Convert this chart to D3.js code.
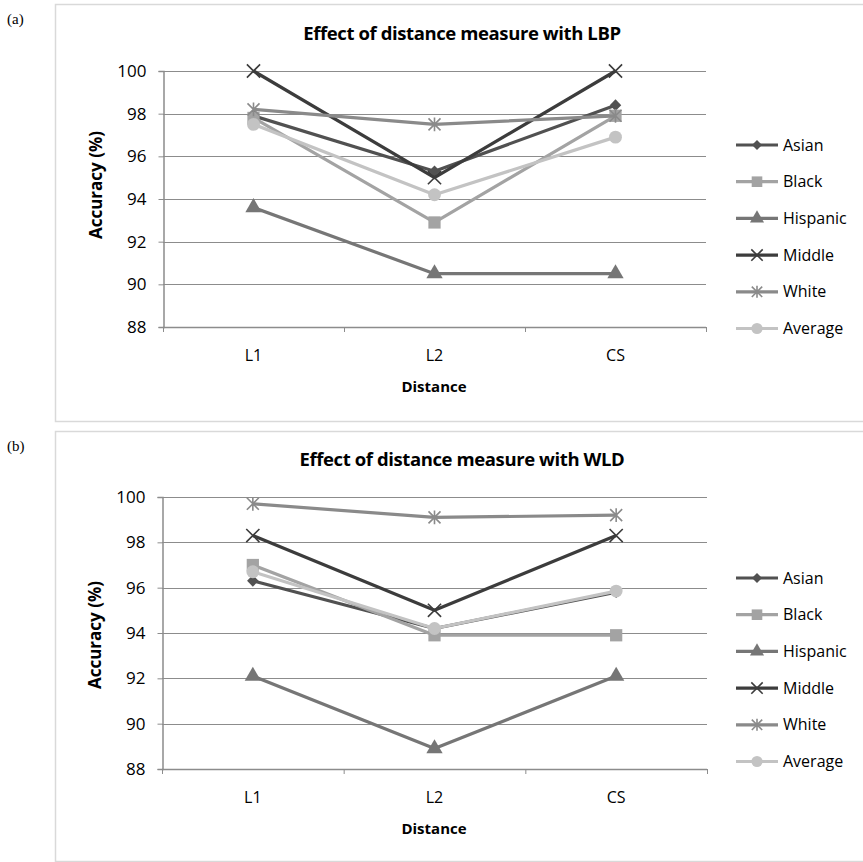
<!DOCTYPE html>
<html>
<head>
<meta charset="utf-8">
<script src="https://cdn.jsdelivr.net/npm/d3@7/dist/d3.min.js"></script>
<style>
  body { margin: 0; background: #fff; }
  text { font-family: "Open Sans", sans-serif; fill: #000; }
</style>
</head>
<body>
<svg id="chart" width="863" height="862"></svg>
<script>
// categories and series
var distances = ['L1', 'L2', 'CS'];
var groups = ['Asian', 'Black', 'Hispanic', 'Middle', 'White', 'Average'];
var yTicks = [88, 90, 92, 94, 96, 98, 100];

// accuracy (%) per group, order of distances
var lbpValues = [
	[97.9, 95.3, 98.4],
	[97.8, 92.9, 97.9],
	[93.6, 90.5, 90.5],
	[100, 95.0, 100],
	[98.2, 97.5, 97.9],
	[97.5, 94.2, 96.9]
];
var wldValues = [
	[96.3, 94.2, 95.8],
	[97.0, 93.9, 93.9],
	[92.1, 88.9, 92.1],
	[98.3, 95.0, 98.3],
	[99.7, 99.1, 99.2],
	[96.7, 94.2, 95.85]
];

// excel style asterisk: an x with a vertical bar
var asterisk = {
	draw: function (ctx, size) {
		var r = Math.sqrt(size) * 0.6;
		ctx.moveTo(-r, -r); ctx.lineTo(r, r);
		ctx.moveTo(-r, r); ctx.lineTo(r, -r);
		ctx.moveTo(0, -r * 1.15); ctx.lineTo(0, r * 1.15);
	}
};

var colors = ['#515151', '#a3a3a3', '#767676', '#3c3c3c', '#8a8a8a', '#c3c3c3'];
var shapes = [d3.symbolDiamond2, d3.symbolSquare, d3.symbolTriangle, d3.symbolX, asterisk, d3.symbolCircle];
var shapeSize = [85, 150, 115, 115, 100, 130];
var strokeOnly = [false, false, false, true, true, false];

var svg = d3.select('#chart');

function drawPanel(conf) {
	var g = svg.append('g'),
		x = d3.scaleBand().domain(distances).range([conf.left, conf.right]),
		y = d3.scaleLinear().domain([88, 100]).range([conf.bottom, conf.top]),
		cx = function (d) { return x(d) + x.bandwidth() / 2; };

	// frame
	g.append('rect')
		.attr('x', 55.5).attr('y', conf.frameTop + 0.5)
		.attr('width', 820).attr('height', conf.frameBottom - conf.frameTop)
		.attr('fill', 'none').attr('stroke', '#d9d9d9').attr('stroke-width', 1.5);

	g.append('text')
		.attr('x', 7).attr('y', conf.frameTop + 20)
		.style('font-family', '"Liberation Serif", serif')
		.style('font-size', '15px')
		.text(conf.label);

	// gridlines
	g.append('g').selectAll('line').data(yTicks).enter().append('line')
		.attr('x1', conf.left).attr('x2', conf.right)
		.attr('y1', function (d) { return Math.round(y(d)) + 0.5; })
		.attr('y2', function (d) { return Math.round(y(d)) + 0.5; })
		.attr('stroke', '#8c8c8c').attr('stroke-width', 1);

	// y axis
	var yAxis = g.append('g')
		.attr('transform', 'translate(' + (conf.left + 0.5) + ',0)')
		.call(d3.axisLeft(y).tickValues(yTicks).tickSize(5).tickPadding(12));
	yAxis.select('.domain').attr('stroke', '#8c8c8c').attr('stroke-width', 1.5);
	yAxis.selectAll('.tick line').attr('stroke', '#8c8c8c');
	yAxis.selectAll('.tick text').style('font-size', '17px').attr('fill', '#000');

	// x axis, ticks at band edges
	var edges = distances.map(function (d) { return x(d); }).concat([conf.right]);
	g.append('line')
		.attr('x1', conf.left).attr('x2', conf.right)
		.attr('y1', y(88) + 0.5).attr('y2', y(88) + 0.5)
		.attr('stroke', '#8c8c8c').attr('stroke-width', 1.5);
	g.append('g').selectAll('line').data(edges).enter().append('line')
		.attr('x1', function (d) { return d + 0.5; }).attr('x2', function (d) { return d + 0.5; })
		.attr('y1', y(88)).attr('y2', y(88) + 5)
		.attr('stroke', '#8c8c8c');
	g.append('g').selectAll('text').data(distances).enter().append('text')
		.attr('x', cx).attr('y', y(88) + 34)
		.attr('text-anchor', 'middle')
		.style('font-size', '16px')
		.text(function (d) { return d; });

	// titles
	g.append('text')
		.attr('x', conf.titleX).attr('y', conf.top - 31)
		.attr('text-anchor', 'middle')
		.style('font-size', '18.5px').style('font-weight', 'bold')
		.style('letter-spacing', '-0.4px')
		.text(conf.title);
	g.append('text')
		.attr('x', 434).attr('y', y(88) + 65)
		.attr('text-anchor', 'middle')
		.style('font-size', '15px').style('font-weight', 'bold')
		.text('Distance');
	g.append('text')
		.attr('transform', 'translate(' + (conf.left - 61) + ',' + conf.yTitleY + ') rotate(-90)')
		.attr('text-anchor', 'middle')
		.style('font-size', '17px').style('font-weight', 'bold')
		.text('Accuracy (%)');

	// series
	var line = d3.line()
		.x(function (d, i) { return cx(distances[i]); })
		.y(function (d) { return y(d); });

	conf.values.forEach(function (vals, s) {
		var sg = g.append('g');
		sg.append('path').datum(vals)
			.attr('d', line)
			.attr('fill', 'none').attr('stroke', colors[s])
			.attr('stroke-width', 3.2).attr('stroke-linejoin', 'round');
		sg.selectAll('path.mark').data(vals).enter().append('path')
			.attr('class', 'mark')
			.attr('d', d3.symbol().type(shapes[s]).size(shapeSize[s]))
			.attr('transform', function (d, i) { return 'translate(' + cx(distances[i]) + ',' + y(d) + ')'; })
			.attr('fill', strokeOnly[s] ? 'none' : colors[s])
			.attr('stroke', strokeOnly[s] ? colors[s] : 'none')
			.attr('stroke-width', 1.6);
	});

	// legend
	var lg = g.append('g').selectAll('g').data(groups).enter().append('g')
		.attr('transform', function (d, i) { return 'translate(736,' + (conf.legendTop + i * 36.7) + ')'; });
	lg.append('line')
		.attr('x1', 0).attr('x2', 42)
		.attr('stroke', function (d, i) { return colors[i]; })
		.attr('stroke-width', 3.2);
	lg.append('path')
		.attr('d', function (d, i) { return d3.symbol().type(shapes[i]).size(shapeSize[i] * 0.75)(); })
		.attr('transform', 'translate(21,0)')
		.attr('fill', function (d, i) { return strokeOnly[i] ? 'none' : colors[i]; })
		.attr('stroke', function (d, i) { return strokeOnly[i] ? colors[i] : 'none'; })
		.attr('stroke-width', 1.6);
	lg.append('text')
		.attr('x', 47).attr('dy', '0.35em')
		.style('font-size', '16px')
		.text(function (d) { return d; });
}

drawPanel({
	label: '(a)', title: 'Effect of distance measure with LBP', values: lbpValues,
	frameTop: 4, frameBottom: 421, left: 163, right: 706, top: 71, bottom: 327,
	legendTop: 145, yTitleY: 185, titleX: 462
});
drawPanel({
	label: '(b)', title: 'Effect of distance measure with WLD', values: wldValues,
	frameTop: 431, frameBottom: 861, left: 162, right: 707, top: 497, bottom: 769,
	legendTop: 578, yTitleY: 635, titleX: 462
});
</script>
</body>
</html>
